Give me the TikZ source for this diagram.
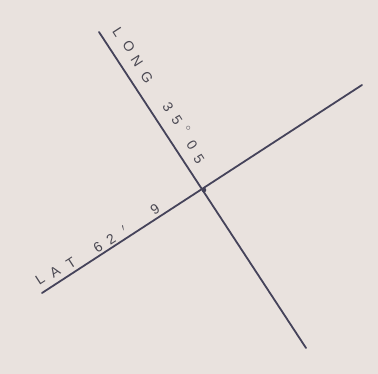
\documentclass[tikz,border=0pt]{standalone}
\usepackage{fontspec}
\setmainfont{Liberation Sans}
\definecolor{paper}{HTML}{E9E2DE}
\definecolor{ink}{HTML}{45435A}
\definecolor{pencil}{HTML}{4A4852}
\begin{document}
\begin{tikzpicture}[x=1pt,y=-1pt,
  axis/.style={draw=ink,line width=1.8pt,line cap=round},
  glyph/.style={text=pencil,font=\fontsize{14}{14}\selectfont,inner sep=0pt}]
\fill[paper] (0,0) rectangle (378,374);
\useasboundingbox (0,0) rectangle (378,374);
\coordinate (lonA) at (99,32);
\coordinate (lonB) at (306,348);
\coordinate (latA) at (42,293);
\coordinate (latB) at (362,85);
\coordinate (x) at (204,190);
\draw[axis] (lonA) -- (lonB);
\draw[axis] (latA) -- (latB);
\fill[ink] (x) circle (2.3);
% LONG
\foreach \c/\px/\py [count=\i] in {L/118/32, O/129/46, N/137/61, G/147/77}
  \node[glyph,rotate=-57] (lon\i) at (\px,\py) {\c};
% 35°05
\foreach \c/\px/\py [count=\i] in {3/168/107, 5/177/120, {$^{\circ}$}/186/130, 0/192/145, 5/199/159}
  \node[glyph,rotate=-57] (deg\i) at (\px,\py) {\c};
% LAT 62' 9
\foreach \c/\px/\py [count=\i] in {L/40/279, A/55/272, T/71/263, 6/98/247, 2/111/239, {$'$}/125/230, 9/155/209}
  \node[glyph,rotate=33] (lat\i) at (\px,\py) {\c};
\end{tikzpicture}
\end{document}
